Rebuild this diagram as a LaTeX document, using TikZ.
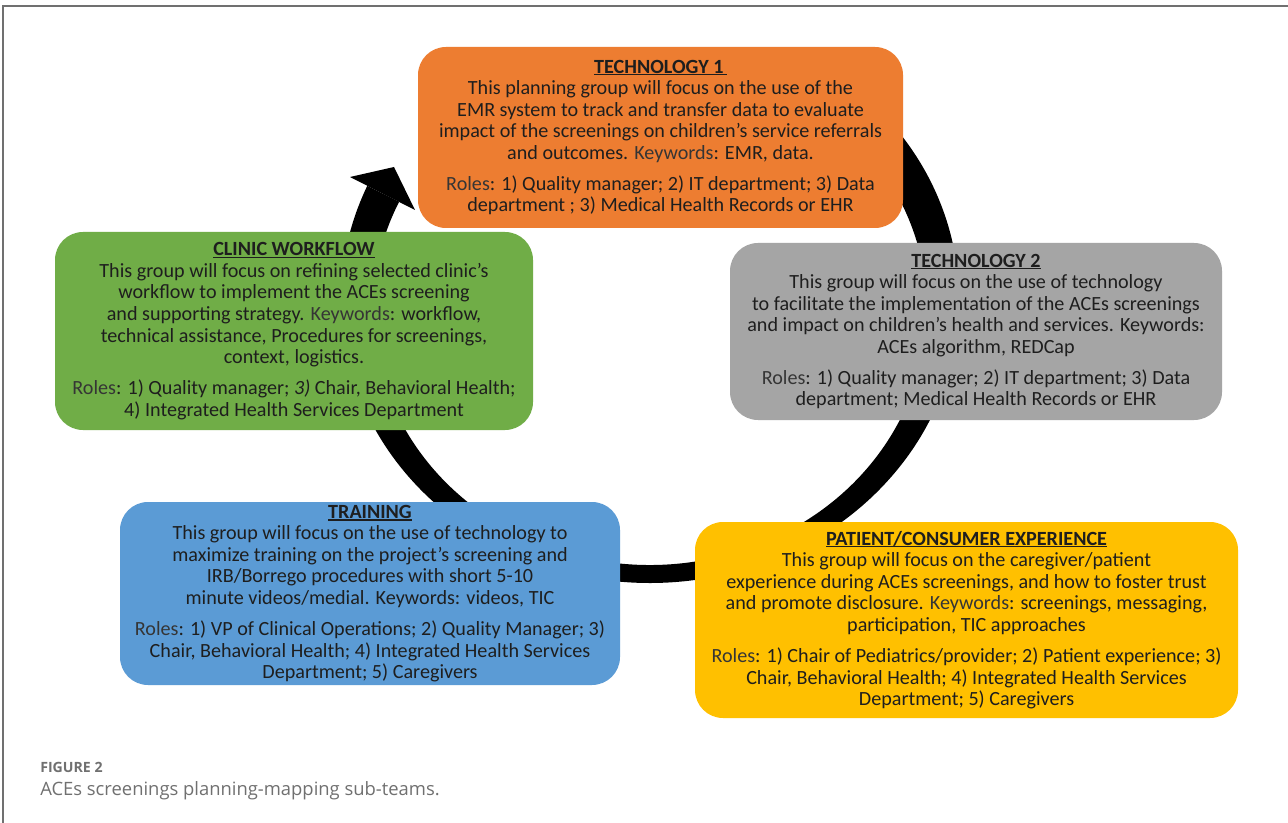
\documentclass[tikz,border=0pt]{standalone}
\usepackage{fontspec}
\setmainfont{Carlito}
\newfontfamily\capfont{Open Sans}
\definecolor{orangebox}{HTML}{ED7D31}
\definecolor{graybox}{HTML}{A5A5A5}
\definecolor{greenbox}{HTML}{70AD47}
\definecolor{bluebox}{HTML}{5B9BD5}
\definecolor{yellowbox}{HTML}{FFC000}
\definecolor{txt}{HTML}{1E1E1E}
\definecolor{kwc}{HTML}{353535}
\definecolor{capgray}{HTML}{707070}
\definecolor{framegray}{HTML}{707070}
\newcommand\ttl[1]{\setbox0\hbox{\textbf{#1}}\rlap{\rule[-1.8pt]{\wd0}{1pt}}\box0}
\newcommand\kw[1]{{\color{kwc}#1}}
\begin{document}
\begin{tikzpicture}[x=0.75pt,y=-0.75pt,
  subteam/.style={rounded corners=21pt, align=center, text=txt, inner sep=0pt,
    font=\fontsize{15.1}{16.2}\selectfont},
  ring/.style={fill=black}]
\useasboundingbox (0,0) rectangle (1288,823);
\fill[white] (0,0) rectangle (1288,823);
\draw[framegray, line width=1.2pt] (3,823) -- (3,6) -- (1288,6);
% circular arrow
\fill[ring] (650,300) ++(-50:309 and 283)
  arc[start angle=-50, end angle=203.8, x radius=309, y radius=283]
  -- (399.1,201.8)
  arc[start angle=205.1, end angle=-50, x radius=277, y radius=255] -- cycle;
\fill[ring] (350,177) -- (394,167) -- (415,210) -- cycle;
% boxes
\node[subteam, fill=orangebox, minimum width=363.75pt, minimum height=135.75pt] (tech1) at (660.5,137.5)
 {\ttl{TECHNOLOGY 1\,}\\
  This planning group will focus on the use of the\\
  EMR system to track and transfer data to evaluate\\
  impact of the screenings on children’s service referrals\\
  and outcomes. \kw{Keywords}: EMR, data.\\[7pt]
  \kw{Roles}: 1) Quality manager; 2) IT department; 3) Data\\
  department ; 3) Medical Health Records or EHR};
\node[subteam, fill=graybox, minimum width=369pt, minimum height=132.75pt] (tech2) at (976,331.5)
 {\ttl{TECHNOLOGY 2}\\
  This group will focus on the use of technology\\
  to facilitate the implementation of the ACEs screenings\\
  and impact on children’s health and services. Keywords:\\
  ACEs algorithm, REDCap\\[7pt]
  \kw{Roles}: 1) Quality manager; 2) IT department; 3) Data\\
  department; Medical Health Records or EHR};
\node[subteam, fill=greenbox, minimum width=358.5pt, minimum height=148.5pt] (clinic) at (294,331)
 {\ttl{CLINIC WORKFLOW}\\
  This group will focus on refining selected clinic’s\\
  workflow to implement the ACEs screening\\
  and supporting strategy. \kw{Keywords}: workflow,\\
  technical assistance, Procedures for screenings,\\
  context, logistics.\\[7pt]
  \kw{Roles}: 1) Quality manager; \textit{3)} Chair, Behavioral Health;\\
  4) Integrated Health Services Department};
\node[subteam, fill=bluebox, minimum width=375pt, minimum height=137.25pt] (training) at (370,593.5)
 {\ttl{TRAINING}\\
  This group will focus on the use of technology to\\
  maximize training on the project’s screening and\\
  IRB/Borrego procedures with short 5-10\\
  minute videos/medial. Keywords: videos, TIC\\[7pt]
  \kw{Roles}: 1) VP of Clinical Operations; 2) Quality Manager; 3)\\
  Chair, Behavioral Health; 4) Integrated Health Services\\
  Department; 5) Caregivers};
\node[subteam, fill=yellowbox, minimum width=407.25pt, minimum height=147pt] (patient) at (966.5,620)
 {\ttl{PATIENT/CONSUMER EXPERIENCE}\\
  This group will focus on the caregiver/patient\\
  experience during ACEs screenings, and how to foster trust\\
  and promote disclosure. \kw{Keywords}: screenings, messaging,\\
  participation, TIC approaches\\[7pt]
  \kw{Roles}: 1) Chair of Pediatrics/provider; 2) Patient experience; 3)\\
  Chair, Behavioral Health; 4) Integrated Health Services\\
  Department; 5) Caregivers};
% caption
\node[anchor=base west, inner sep=0pt, text=capgray, font=\capfont\fontsize{10.6}{12}\selectfont\bfseries] (figlabel) at (40,772) {FIGURE 2};
\node[anchor=base west, inner sep=0pt, text=capgray, font=\capfont\fontsize{13.8}{16}\selectfont] (figcaption) at (40,795) {ACEs screenings planning-mapping sub-teams.};
\end{tikzpicture}
\end{document}
